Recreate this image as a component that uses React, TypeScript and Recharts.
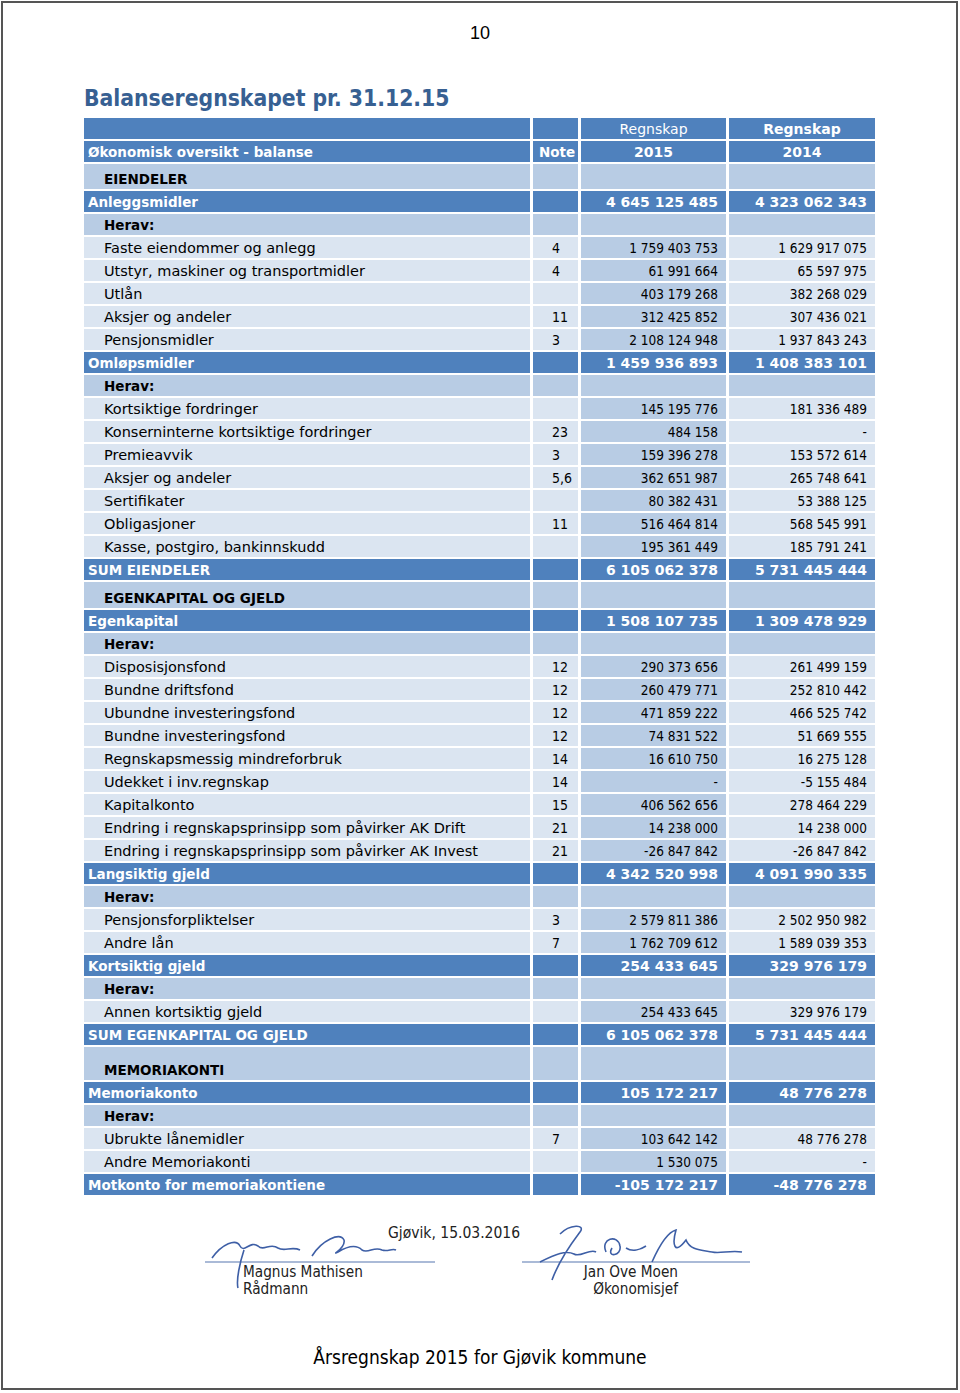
import React from 'react'
import { ComposedChart, Scatter, XAxis, YAxis } from 'recharts'

// ─── Data ─────────────────────────────────────────────────────────────────────

type RowKind = 'section' | 'group' | 'herav' | 'item'

const HEADER_TOP = ['', '', 'Regnskap', 'Regnskap']
const HEADER_COLS = ['Økonomisk oversikt - balanse', 'Note', '2015', '2014']

const ROW_LABELS = [
  'EIENDELER',
  'Anleggsmidler',
  'Herav:',
  'Faste eiendommer og anlegg',
  'Utstyr, maskiner og transportmidler',
  'Utlån',
  'Aksjer og andeler',
  'Pensjonsmidler',
  'Omløpsmidler',
  'Herav:',
  'Kortsiktige fordringer',
  'Konserninterne kortsiktige fordringer',
  'Premieavvik',
  'Aksjer og andeler',
  'Sertifikater',
  'Obligasjoner',
  'Kasse, postgiro, bankinnskudd',
  'SUM EIENDELER',
  'EGENKAPITAL OG GJELD',
  'Egenkapital',
  'Herav:',
  'Disposisjonsfond',
  'Bundne driftsfond',
  'Ubundne investeringsfond',
  'Bundne investeringsfond',
  'Regnskapsmessig mindreforbruk',
  'Udekket i inv.regnskap',
  'Kapitalkonto',
  'Endring i regnskapsprinsipp som påvirker AK Drift',
  'Endring i regnskapsprinsipp som påvirker AK Invest',
  'Langsiktig gjeld',
  'Herav:',
  'Pensjonsforpliktelser',
  'Andre lån',
  'Kortsiktig gjeld',
  'Herav:',
  'Annen kortsiktig gjeld',
  'SUM EGENKAPITAL OG GJELD',
  'MEMORIAKONTI',
  'Memoriakonto',
  'Herav:',
  'Ubrukte lånemidler',
  'Andre Memoriakonti',
  'Motkonto for memoriakontiene',
]

const ROW_KINDS: RowKind[] = [
  'section', 'group', 'herav', 'item', 'item', 'item', 'item', 'item',
  'group', 'herav', 'item', 'item', 'item', 'item', 'item', 'item', 'item',
  'group',
  'section', 'group', 'herav', 'item', 'item', 'item', 'item', 'item', 'item', 'item', 'item', 'item',
  'group', 'herav', 'item', 'item',
  'group', 'herav', 'item',
  'group',
  'section', 'group', 'herav', 'item', 'item',
  'group',
]

const NOTES = [
  '', '', '', '4', '4', '', '11', '3',
  '', '', '', '23', '3', '5,6', '', '11', '',
  '',
  '', '', '', '12', '12', '12', '12', '14', '14', '15', '21', '21',
  '', '', '3', '7',
  '', '', '',
  '',
  '', '', '', '7', '',
  '',
]

// null = empty cell, 0 = shown as "-"
const VALUES_2015: (number | null)[] = [
  null, 4645125485, null, 1759403753, 61991664, 403179268, 312425852, 2108124948,
  1459936893, null, 145195776, 484158, 159396278, 362651987, 80382431, 516464814, 195361449,
  6105062378,
  null, 1508107735, null, 290373656, 260479771, 471859222, 74831522, 16610750, 0, 406562656, 14238000, -26847842,
  4342520998, null, 2579811386, 1762709612,
  254433645, null, 254433645,
  6105062378,
  null, 105172217, null, 103642142, 1530075,
  -105172217,
]

const VALUES_2014: (number | null)[] = [
  null, 4323062343, null, 1629917075, 65597975, 382268029, 307436021, 1937843243,
  1408383101, null, 181336489, 0, 153572614, 265748641, 53388125, 568545991, 185791241,
  5731445444,
  null, 1309478929, null, 261499159, 252810442, 466525742, 51669555, 16275128, -5155484, 278464229, 14238000, -26847842,
  4091990335, null, 2502950982, 1589039353,
  329976179, null, 329976179,
  5731445444,
  null, 48776278, null, 48776278, 0,
  -48776278,
]

// ─── Layout & style ───────────────────────────────────────────────────────────

const TABLE_W = 791
const ROW_H = 23
const SECTION_H: Record<string, number> = {
  EIENDELER: 27,
  'EGENKAPITAL OG GJELD': 28,
  MEMORIAKONTI: 35,
}
// [left, right] of each column inside the table
const COLS: [number, number][] = [
  [0, 446],
  [449, 494],
  [497, 642],
  [645, 791],
]

const DARK = '#4F81BD'
const MID = '#B8CCE4'
const LIGHT = '#DBE5F1'
const WIDE = '"DejaVu Sans", sans-serif'
const COND = '"DejaVu Sans Condensed", "DejaVu Sans", sans-serif'

function fmt(v: number | null): string {
  if (v === null) return ''
  if (v === 0) return '-'
  const s = Math.abs(v).toString().replace(/\B(?=(\d{3})+(?!\d))/g, ' ')
  return v < 0 ? '-' + s : s
}

interface Row {
  x: number
  top: number
  bottom: number
  kind: 'head0' | 'head1' | RowKind
  cells: string[]
}

function buildRows(): Row[] {
  const rows: Row[] = []
  let y = 0
  const push = (kind: Row['kind'], cells: string[], h: number) => {
    rows.push({ x: 0, top: y, bottom: y + h, kind, cells })
    y += h
  }
  push('head0', HEADER_TOP, ROW_H)
  push('head1', HEADER_COLS, ROW_H)
  ROW_LABELS.forEach((label, i) => {
    const kind = ROW_KINDS[i]
    const h = kind === 'section' ? SECTION_H[label] ?? ROW_H : ROW_H
    push(kind, [label, NOTES[i], fmt(VALUES_2015[i]), fmt(VALUES_2014[i])], h)
  })
  return rows
}

const ROWS = buildRows()
const TABLE_H = ROWS[ROWS.length - 1].bottom

// ─── Row shape ────────────────────────────────────────────────────────────────

function textStyle(kind: Row['kind'], ci: number) {
  const dark = kind === 'head0' || kind === 'head1' || kind === 'group'
  const boldKind = dark || kind === 'section' || kind === 'herav'
  if (ci === 0) {
    return boldKind
      ? { fontFamily: WIDE, fontSize: 13.5, fontWeight: 'bold' }
      : { fontFamily: WIDE, fontSize: 14.5, fontWeight: 'normal' }
  }
  if (ci === 1) {
    return kind === 'head1'
      ? { fontFamily: WIDE, fontSize: 13.5, fontWeight: 'bold' }
      : { fontFamily: COND, fontSize: 14, fontWeight: 'normal' }
  }
  if (kind === 'head0' && ci === 2) return { fontFamily: WIDE, fontSize: 14, fontWeight: 'normal' }
  if (boldKind) return { fontFamily: WIDE, fontSize: 14, fontWeight: 'bold' }
  return { fontFamily: COND, fontSize: 13.5, fontWeight: 'normal' }
}

function RowShape(props: any) {
  const { cx, cy, payload } = props
  const row = payload as Row
  const h = row.bottom - row.top
  const top = cy - h
  const ty = cy - 11.5
  const kind = row.kind
  const dark = kind === 'head0' || kind === 'head1' || kind === 'group'

  const fill = (ci: number) => {
    if (dark) return DARK
    if (kind === 'section' || kind === 'herav') return MID
    return ci === 2 ? MID : LIGHT
  }
  const color = dark ? '#ffffff' : '#000000'

  return (
    <g>
      {COLS.map(([l, r], ci) => (
        <rect key={`c${ci}`} x={cx + l} y={top + 1} width={r - l} height={h - 2} fill={fill(ci)} />
      ))}
      {row.cells.map((txt, ci) => {
        if (!txt) return null
        const [l, r] = COLS[ci]
        let x = cx + l
        let anchor: 'start' | 'middle' | 'end' = 'start'
        if (ci === 0) {
          x = cx + l + (dark ? 4 : 20)
        } else if (ci === 1) {
          x = kind === 'head1' ? cx + l + 6 : cx + l + 19
        } else if (kind === 'head0' || kind === 'head1') {
          x = cx + (l + r) / 2
          anchor = 'middle'
        } else {
          x = cx + r - 8
          anchor = 'end'
        }
        return (
          <text
            key={`t${ci}`}
            x={x}
            y={ty}
            textAnchor={anchor}
            dominantBaseline="central"
            fill={color}
            {...textStyle(kind, ci)}
          >
            {txt}
          </text>
        )
      })}
    </g>
  )
}

// ─── Page ─────────────────────────────────────────────────────────────────────

const SIG = '#3E5FA6'

export default function App() {
  return (
    <div style={{ position: 'absolute', left: 0, top: 0, width: 960, height: 1393, background: '#fff' }}>
      <svg width={960} height={1393} style={{ position: 'absolute', left: 0, top: 0 }}>
        <rect x={2} y={2} width={955} height={1387} fill="none" stroke="#555" strokeWidth={2} />
        <text x={480} y={39} textAnchor="middle" fontFamily="Liberation Sans, Arial" fontSize={18} fill="#000">
          10
        </text>
        <text x={84} y={106} fontFamily={COND} fontSize={22.7} fontWeight="bold" fill="#376092">
          Balanseregnskapet pr. 31.12.15
        </text>

        {/* signatures */}
        <text x={388} y={1238} fontFamily={COND} fontSize={15.5} fill="#222">
          Gjøvik, 15.03.2016
        </text>
        <line x1={205} y1={1262} x2={435} y2={1262} stroke="#5677b0" strokeWidth={1.2} />
        <line x1={522} y1={1262} x2={750} y2={1262} stroke="#5677b0" strokeWidth={1.2} />
        <path
          d="M212 1258 C222 1244 236 1238 240 1246 C244 1254 250 1240 258 1246 C264 1252 270 1242 278 1248 C284 1252 292 1246 300 1250 M244 1250 C240 1262 236 1280 238 1288 M312 1256 C322 1240 340 1232 344 1240 C346 1248 330 1256 338 1252 C348 1246 356 1244 362 1250 C368 1254 374 1246 382 1250 C388 1252 392 1248 396 1250"
          fill="none"
          stroke={SIG}
          strokeWidth={1.6}
        />
        <path
          d="M560 1234 C570 1224 586 1224 580 1232 C574 1240 560 1258 552 1280 M540 1262 C556 1254 566 1250 574 1254 C580 1258 590 1248 596 1252 M606 1252 C600 1238 618 1234 620 1246 C622 1256 606 1258 612 1248 M626 1248 C632 1252 640 1250 646 1246 M652 1262 C660 1244 668 1232 676 1230 C672 1244 674 1256 686 1240 C690 1250 700 1250 712 1252 C720 1254 730 1250 742 1252"
          fill="none"
          stroke={SIG}
          strokeWidth={1.6}
        />
        <text x={243} y={1277} fontFamily={COND} fontSize={15.2} fill="#222">
          Magnus Mathisen
        </text>
        <text x={243} y={1294} fontFamily={COND} fontSize={15.2} fill="#222">
          Rådmann
        </text>
        <text x={678} y={1277} textAnchor="end" fontFamily={COND} fontSize={15.2} fill="#222">
          Jan Ove Moen
        </text>
        <text x={678} y={1294} textAnchor="end" fontFamily={COND} fontSize={15.2} fill="#222">
          Økonomisjef
        </text>

        <text x={480} y={1364} textAnchor="middle" fontFamily={COND} fontSize={19} fill="#000">
          Årsregnskap 2015 for Gjøvik kommune
        </text>
      </svg>

      <div style={{ position: 'absolute', left: 84, top: 117 }}>
        <ComposedChart width={TABLE_W} height={TABLE_H} margin={{ top: 0, right: 0, bottom: 0, left: 0 }}>
          <XAxis type="number" dataKey="x" domain={[0, TABLE_W]} hide />
          <YAxis type="number" dataKey="bottom" domain={[0, TABLE_H]} reversed hide />
          <Scatter data={ROWS} dataKey="bottom" shape={RowShape} isAnimationActive={false} />
        </ComposedChart>
      </div>
    </div>
  )
}
